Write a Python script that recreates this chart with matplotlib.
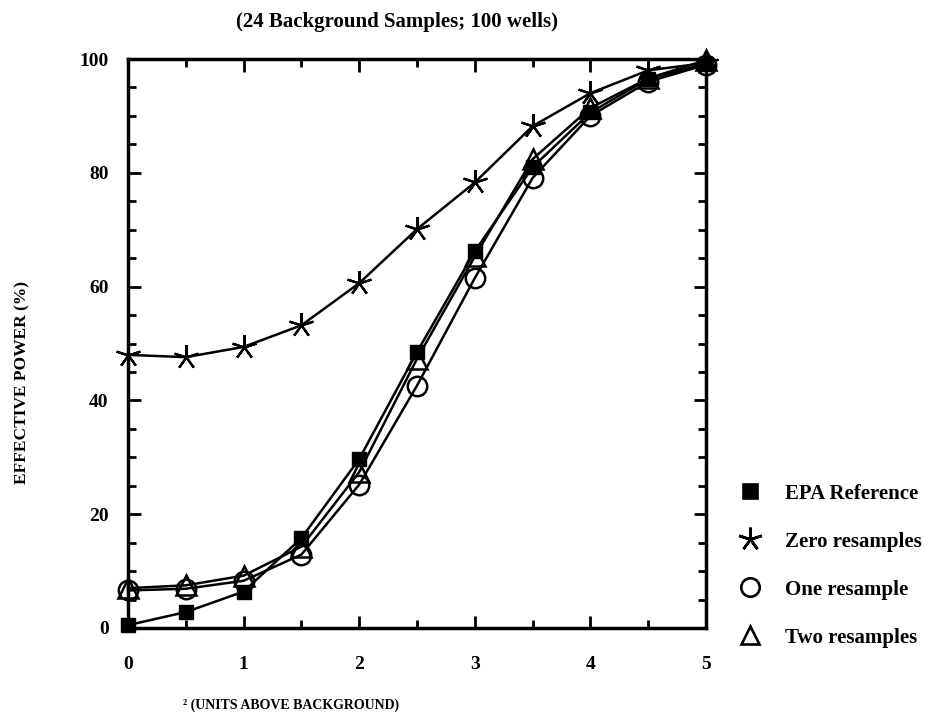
import matplotlib
matplotlib.use("Agg")
import matplotlib.pyplot as plt
from matplotlib.ticker import MultipleLocator

x = [0, 0.5, 1, 1.5, 2, 2.5, 3, 3.5, 4, 4.5, 5]
epa_reference = [0.5, 2.8, 6.4, 15.8, 29.7, 48.5, 66.2, 81.0, 90.6, 96.5, 99.2]
zero_resamples = [48.0, 47.6, 49.4, 53.2, 60.6, 70.1, 78.3, 88.2, 94.0, 98.0, 99.3]
one_resample = [6.6, 6.9, 8.3, 12.9, 25.2, 42.6, 61.5, 79.1, 90.0, 96.0, 99.0]
two_resamples = [7.0, 7.5, 9.2, 14.3, 27.4, 47.3, 65.3, 82.4, 91.4, 96.6, 99.8]

labels = ["EPA Reference", "Zero resamples", "One resample", "Two resamples"]
title = "(24 Background Samples; 100 wells)"
xlabel = "\u00b2 (UNITS ABOVE BACKGROUND)"
ylabel = "EFFECTIVE POWER (%)"

plt.rcParams['font.family'] = ['Liberation Serif', 'DejaVu Serif']
plt.rcParams['font.weight'] = 'bold'

fig = plt.figure(figsize=(9.3, 7.28), dpi=100)
ax = fig.add_axes([128/930, 1-628/728, (706-128)/930, (628-59)/728])

lw = 1.8
ax.plot(x, epa_reference, color='black', lw=lw, marker='s', ms=10,
        mfc='black', mec='black', label=labels[0], zorder=3)
ax.plot(x, zero_resamples, color='black', lw=lw, marker=(5, 2, 0), ms=18,
        mew=1.6, mec='black', label=labels[1], zorder=3)
ax.plot(x, one_resample, color='black', lw=lw, marker='o', ms=14,
        mfc='none', mec='black', mew=1.8, label=labels[2], zorder=3)
ax.plot(x, two_resamples, color='black', lw=lw, marker='^', ms=14,
        mfc='none', mec='black', mew=1.8, label=labels[3], zorder=3)

ax.set_xlim(0, 5)
ax.set_ylim(0, 100)
ax.xaxis.set_major_locator(MultipleLocator(1))
ax.xaxis.set_minor_locator(MultipleLocator(0.5))
ax.yaxis.set_major_locator(MultipleLocator(20))
ax.yaxis.set_minor_locator(MultipleLocator(5))
for s in ax.spines.values():
    s.set_linewidth(2.5)
    s.set_clip_on(False)
ax.tick_params(which='both', direction='in', top=True, right=True, width=2)
ax.tick_params(which='major', length=9)
ax.tick_params(which='minor', length=6)
ax.tick_params(axis='x', which='major', pad=20, labelsize=14)
ax.tick_params(axis='y', which='major', pad=14, labelsize=14)
for t in ax.get_xticklabels() + ax.get_yticklabels():
    t.set_fontweight('bold')
for ln in ax.lines:
    ln.set_clip_on(False)

fig.text(397/930, 1-22/728, title, ha='center', va='center', fontsize=15, fontweight='bold')
fig.text(291/930, 1-705/728, xlabel, ha='center', va='center', fontsize=10, fontweight='bold')
fig.text(22/930, 1-383/728, ylabel, ha='center', va='center', rotation=90, fontsize=12.5, fontweight='bold')

handles = []
for ln in ax.lines:
    h = matplotlib.lines.Line2D([], [], linestyle='none', marker=ln.get_marker(),
                                mfc=ln.get_markerfacecolor(), mec='black',
                                ms=ln.get_markersize()*0.95, mew=1.9)
    handles.append(h)
leg = fig.legend(handles, labels, loc='upper left', bbox_to_anchor=(721/930, 1-465/728),
                 frameon=False, handlelength=1.0, handletextpad=1.18, labelspacing=1.34,
                 prop={'size': 15, 'weight': 'bold', 'family': 'Liberation Serif'})

fig.savefig("out.png", dpi=100)
